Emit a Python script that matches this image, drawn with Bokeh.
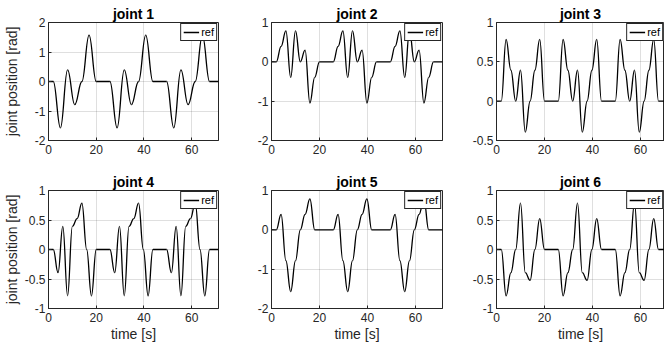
import numpy as np
from bokeh.plotting import figure
from bokeh.layouts import column, row
from bokeh.models import FixedTicker, CustomJSTickFormatter, Range1d, ColumnDataSource
from bokeh.embed import file_html
from bokeh.resources import INLINE

# ---- data (waypoints of one motion cycle) ----
cycle_starts = [0.0, 23.75, 47.5]   # start time of each repeated cycle [s]
t_end = 71.25                        # end of the recorded time [s]

joint1_t = [2, 5, 8, 11, 14, 17, 20]
joint1_q = [0, -1.571, 0.393, -0.785, 0, 1.571, 0]

joint2_t = [2, 4, 6, 8, 10, 12, 14, 16, 18, 20]
joint2_q = [0, 0.393, 0.785, -0.393, 0.785, 0, 0.3, -1.047, -0.393, 0]

joint3_t = [2, 4, 6, 8, 10, 12, 14, 16, 18, 20]
joint3_q = [0, 0.785, 0.393, 0, 0.393, -0.393, 0, 0.393, 0.785, 0]

joint4_t = [2, 4, 6, 8, 10, 12, 14, 16, 18, 20]
joint4_q = [0, -0.393, 0.393, -0.785, 0.393, 0.524, 0.785, 0, -0.785, 0]

joint5_t = [2, 4, 6, 8, 10, 12, 14, 16, 18]
joint5_q = [0, 0.393, -0.785, -1.571, -0.785, 0, 0.393, 0.785, 0]

joint6_t = [2, 4, 6, 8, 10, 12, 14, 16, 18, 20]
joint6_q = [0, -0.785, -0.393, 0, 0.785, -0.393, -0.524, 0, 0.524, 0]

titles = ["joint 1", "joint 2", "joint 3", "joint 4", "joint 5", "joint 6"]
y_ranges = [(-2, 2), (-2, 1), (-0.5, 1), (-1, 1), (-2, 1), (-1, 1)]
y_ticks = [[-2, -1, 0, 1, 2], [-2, -1, 0, 1], [-0.5, 0, 0.5, 1],
           [-1, -0.5, 0, 0.5, 1], [-2, -1, 0, 1], [-1, -0.5, 0, 0.5, 1]]
x_ticks = [0, 20, 40, 60]
legend_label = "ref"
y_label = "joint position [rad]"
x_label = "time [s]"

FONT = "Liberation Sans"
AX = "#262626"
SHAPE = 0.42  # control-point fraction for the point-to-point bezier segments


def waypoints(tw, qw):
    ts = [0.0]
    qs = [0.0]
    for c in cycle_starts:
        for t, q in zip(tw, qw):
            ts.append(c + t)
            qs.append(q)
    ts.append(t_end)
    qs.append(0.0)
    return np.array(ts, dtype=float), np.array(qs, dtype=float)


def bezier_source(ts, qs):
    x0, x1 = ts[:-1], ts[1:]
    y0, y1 = qs[:-1], qs[1:]
    d = x1 - x0
    return ColumnDataSource(dict(x0=x0, y0=y0, x1=x1, y1=y1,
                                 cx0=x0 + SHAPE * d, cy0=y0,
                                 cx1=x1 - SHAPE * d, cy1=y1))


def panel(i, tw, qw, x_end, w, h, bl, br, bt, bb, show_ylabel, show_xlabel, ylab_standoff):
    p = figure(width=w, height=h, x_range=Range1d(0, x_end),
               y_range=Range1d(*y_ranges[i]), output_backend="svg",
               toolbar_location=None, min_border_left=bl, min_border_right=br,
               min_border_top=bt, min_border_bottom=bb,
               outline_line_color=AX, outline_line_width=1, outline_line_alpha=1)
    p.title.text = titles[i]
    p.title.align = "center"
    p.title.text_font = FONT
    p.title.text_font_size = "14px"
    p.title.text_font_style = "bold"
    p.title.text_color = "black"
    p.title.standoff = 1
    p.title.offset = 0

    ts, qs = waypoints(tw, qw)
    src = bezier_source(ts, qs)
    p.bezier(x0="x0", y0="y0", x1="x1", y1="y1", cx0="cx0", cy0="cy0",
             cx1="cx1", cy1="cy1", source=src, line_color="black", line_width=1.3)
    # single-point line: invisible on the plot, provides the legend sample
    p.line(x=ts[:1], y=qs[:1], line_color="black", line_width=1.3, legend_label=legend_label)

    p.xaxis.ticker = FixedTicker(ticks=x_ticks)
    p.yaxis.ticker = FixedTicker(ticks=y_ticks[i])
    fmt = "return tick.toString();"
    p.xaxis.formatter = CustomJSTickFormatter(code=fmt)
    p.yaxis.formatter = CustomJSTickFormatter(code=fmt)
    for ax in (p.xaxis, p.yaxis):
        ax.axis_line_color = AX
        ax.major_tick_line_color = AX
        ax.major_tick_in = 3
        ax.major_tick_out = 0
        ax.minor_tick_line_color = None
        ax.major_label_text_font = FONT
        ax.major_label_text_font_size = "12px"
        ax.major_label_text_color = AX
        ax.axis_label_text_font = FONT
        ax.axis_label_text_font_size = "14px"
        ax.axis_label_text_font_style = "normal"
        ax.axis_label_text_color = AX
    p.xaxis.major_label_standoff = 4
    p.yaxis.major_label_standoff = 3
    p.xaxis.axis_label_standoff = 1
    p.yaxis.axis_label_standoff = ylab_standoff
    if show_ylabel:
        p.yaxis.axis_label = y_label
    if show_xlabel:
        p.xaxis.axis_label = x_label
    p.xgrid.ticker = FixedTicker(ticks=x_ticks)
    p.ygrid.ticker = FixedTicker(ticks=y_ticks[i])
    p.grid.grid_line_color = AX
    p.grid.grid_line_alpha = 0.15
    p.grid.grid_line_width = 1

    lg = p.legend[0]
    lg.location = "top_right"
    lg.margin = 1
    lg.padding = 2
    lg.spacing = 0
    lg.glyph_width = 16
    lg.glyph_height = 12
    lg.label_height = 12
    lg.label_width = 10
    lg.label_standoff = 2
    lg.label_text_font = FONT
    lg.label_text_font_size = "11px"
    lg.label_text_color = "black"
    lg.border_line_color = AX
    lg.border_line_width = 1
    lg.border_line_alpha = 1
    lg.background_fill_alpha = 1
    return p


data = [(joint1_t, joint1_q), (joint2_t, joint2_q), (joint3_t, joint3_q),
        (joint4_t, joint4_q), (joint5_t, joint5_q), (joint6_t, joint6_q)]

# layout: columns (width, left, right, x_end), rows (height, top, bottom)
cols = [(232, 47, 14, t_end), (224, 39, 14, t_end), (208, 40, 0, 70.0)]
rows_ = [(168, 22, 28), (185, 22, 45)]
ylab_standoffs = [12, 3, 3, 2, 3, 2]

figs = []
for i, (tw, qw) in enumerate(data):
    r, c = divmod(i, 3)
    w, bl, br, xe = cols[c]
    h, bt, bb = rows_[r]
    figs.append(panel(i, tw, qw, xe, w, h, bl, br, bt, bb, c == 0, r == 1, ylab_standoffs[i]))

layout = column(row(figs[0], figs[1], figs[2], spacing=0),
                row(figs[3], figs[4], figs[5], spacing=0), spacing=0)

open("out.html", "w").write(file_html(layout, INLINE))
